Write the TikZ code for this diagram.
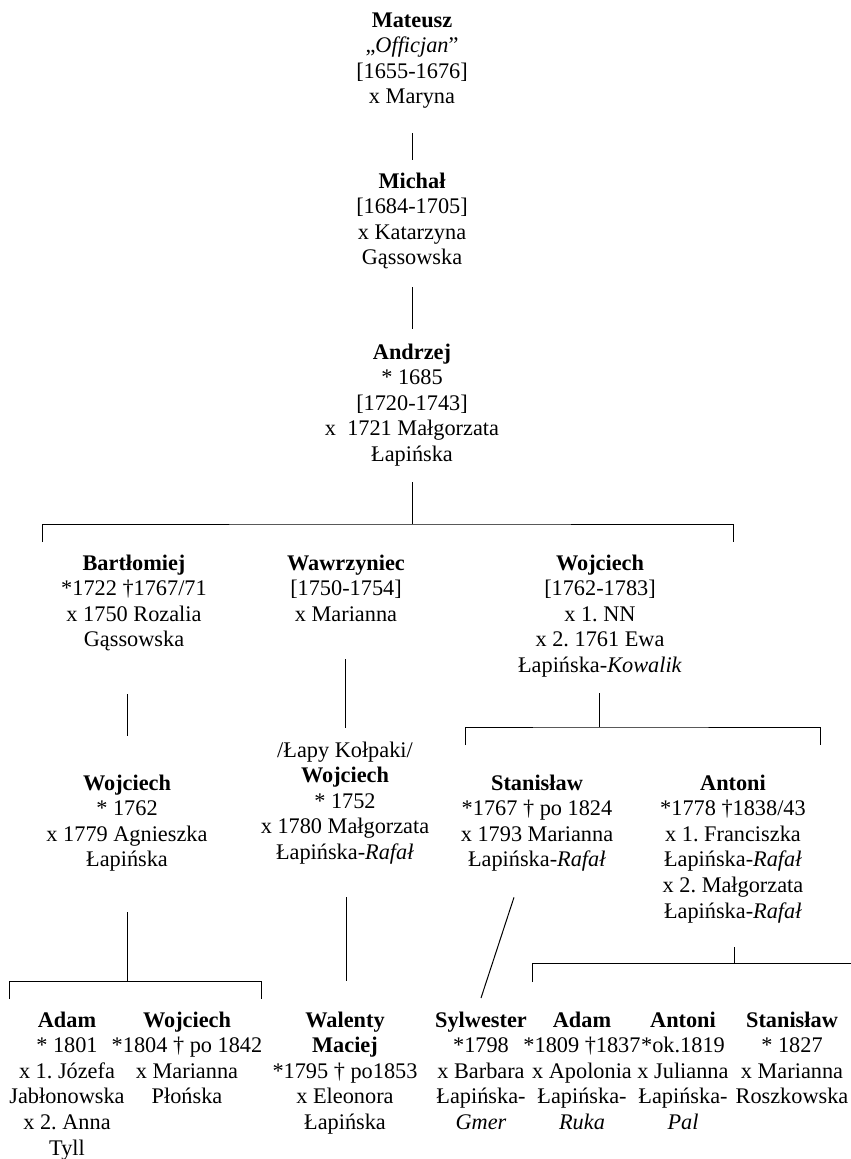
\documentclass[tikz,border=0pt]{standalone}
\usepackage{fontspec}
\setmainfont{Liberation Serif}
\usetikzlibrary{calc}
\tikzset{
  person/.style={align=center, inner sep=0pt, anchor=north, font=\fontsize{22.3}{25.6}\selectfont},
  link/.style={line width=1pt, line cap=butt}
}
\begin{document}
\frenchspacing
\begin{tikzpicture}[x=1pt,y=-1pt]
\useasboundingbox (0,0) rectangle (851,1159);
% generation 1-3
\node[person] (mat) at (412,9) {\strut\textbf{Mateusz}\\ „\textit{Officjan}”\\ {[1655-1676]}\\ x Maryna\strut};
\node[person] (mic) at (412,170) {\strut\textbf{Michał}\\ {[1684-1705]}\\ x Katarzyna\\ Gąssowska\strut};
\node[person] (and) at (412,341) {\strut\textbf{Andrzej}\\ * 1685\\ {[1720-1743]}\\ x~~1721 Małgorzata\\ Łapińska\strut};
% generation 4
\node[person] (bar) at (134,552) {\strut\textbf{Bartłomiej}\\ *1722 †1767/71\\ x 1750 Rozalia\\ Gąssowska\strut};
\node[person] (waw) at (346,552) {\strut\textbf{Wawrzyniec}\\ {[1750-1754]}\\ x Marianna\strut};
\node[person] (wojA) at (600,552) {\strut\textbf{Wojciech}\\ {[1762-1783]}\\ x 1. NN\\ x 2. 1761 Ewa\\ Łapińska-\textit{Kowalik}\strut};
% generation 5
\node[person] (wojB) at (127,772) {\strut\textbf{Wojciech}\\ * 1762\\ x 1779 Agnieszka\\ Łapińska\strut};
\node[person] (wojW) at (345,739) {\strut/Łapy Kołpaki/\\ \textbf{Wojciech}\\ * 1752\\ x 1780 Małgorzata\\ Łapińska-\textit{Rafał}\strut};
\node[person] (sta) at (537,772) {\strut\textbf{Stanisław}\\ *1767 † po 1824\\ x 1793 Marianna\\ Łapińska-\textit{Rafał}\strut};
\node[person] (ant) at (733,772) {\strut\textbf{Antoni}\\ *1778 †1838/43\\ x 1. Franciszka\\ Łapińska-\textit{Rafał}\\ x 2. Małgorzata\\ Łapińska-\textit{Rafał}\strut};
% generation 6
\node[person] (adaA) at (67,1009) {\strut\textbf{Adam}\\ * 1801\\ x 1. Józefa\\ Jabłonowska\\ x 2. Anna\\ Tyll};
\node[person] (wojC) at (187,1009) {\strut\textbf{Wojciech}\\ *1804 † po 1842\\ x Marianna\\ Płońska};
\node[person] (wal) at (345,1009) {\strut\textbf{Walenty}\\ \textbf{Maciej}\\ *1795 † po1853\\ x Eleonora\\ Łapińska};
\node[person] (syl) at (481,1009) {\strut\textbf{Sylwester}\\ *1798\\ x Barbara\\ Łapińska-\\ \textit{Gmer}};
\node[person] (adaB) at (582,1009) {\strut\textbf{Adam}\\ *1809 †1837\\ x Apolonia\\ Łapińska-\\ \textit{Ruka}};
\node[person] (antB) at (683,1009) {\strut\textbf{Antoni}\\ *ok.1819\\ x Julianna\\ Łapińska-\\ \textit{Pal}};
\node[person] (staB) at (792,1009) {\strut\textbf{Stanisław}\\ * 1827\\ x Marianna\\ Roszkowska};
% junctions and bracket ends
\coordinate (j1) at (412,524);
\coordinate (b1l) at (42,542);
\coordinate (b1r) at (733,542);
\coordinate (j2) at (599,727);
\coordinate (b2l) at (465,745);
\coordinate (b2r) at (820,745);
\coordinate (j3) at (127,981);
\coordinate (b3l) at (9,999);
\coordinate (b3r) at (261,999);
\coordinate (j4) at (734,963);
\coordinate (b4l) at (532,982);
\coordinate (b4r) at (851,963);
% connectors
\draw[link] ($(mat.south)+(0,21.5)$) -- ($(mic.north)+(0,-10)$);
\draw[link] ($(mic.south)+(0,14.5)$) -- ($(and.north)+(0,-12)$);
\draw[link] ($(and.south)+(0,13)$) -- (j1);
\draw[link] (b1l) |- (j1) -| (b1r);
\draw[link] ($(wojB.north)+(0,-78)$) -- ($(wojB.north)+(0,-36)$);
\draw[link] ($(wojW.north)+(0,-80)$) -- ($(wojW.north)+(0,-11)$);
\draw[link] ($(wojA.south)+(-1,13)$) -- (j2);
\draw[link] (b2l) |- (j2) -| (b2r);
\draw[link] ($(wojB.south)+(0,37.5)$) -- (j3);
\draw[link] (b3l) |- (j3) -| (b3r);
\draw[link] ($(wojW.south)+(1,30)$) -- ($(wal.north)+(1,-28)$);
\draw[link] ($(sta.south)+(-23,22.5)$) -- ($(syl.north)+(0,-11)$);
\draw[link] ($(ant.south)+(1,21)$) -- (j4);
\draw[link] (b4l) |- (j4) -- (b4r);
\end{tikzpicture}
\end{document}
